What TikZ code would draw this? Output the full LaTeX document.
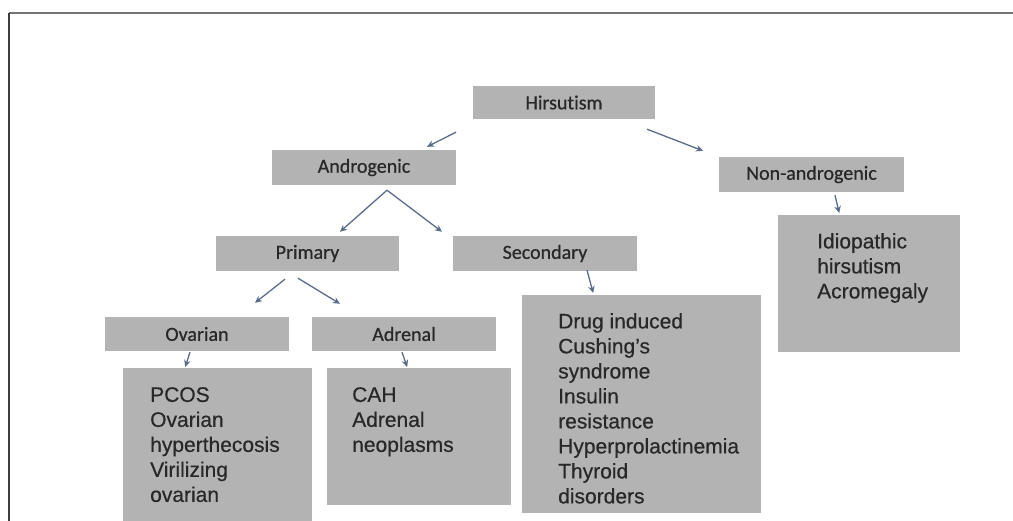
\documentclass[tikz,border=0pt]{standalone}
\usepackage{fontspec}
\newfontfamily\headfont[Ligatures=NoCommon, FakeBold=0.6]{Carlito}
\newfontfamily\bodyfont[FakeBold=0.5]{Liberation Sans}
\usetikzlibrary{calc,arrows.meta}
\definecolor{boxgray}{RGB}{179,179,179}
\definecolor{txtgray}{RGB}{40,40,40}
\definecolor{arrcol}{RGB}{90,108,140}
\definecolor{topline}{RGB}{115,115,115}
\definecolor{leftline}{RGB}{60,60,60}
\tikzset{
  hbox/.style={fill=boxgray, draw=none, inner sep=0pt, minimum height=35pt, minimum width=184pt,
    font=\headfont\fontsize{20}{24}\selectfont, text=txtgray},
  bbox/.style={fill=boxgray, draw=none, inner sep=0pt, anchor=north west},
  bodytext/.style={anchor=north west, inner sep=0pt, align=left,
    font=\bodyfont\fontsize{21}{25}\selectfont, text=txtgray},
  arr/.style={draw=arrcol, line width=1.3pt, -{Stealth[length=7pt,width=6.5pt]}}
}
\begin{document}
\begin{tikzpicture}[x=1pt,y=-1pt]
\useasboundingbox (0,0) rectangle (1013,521);
\fill[white] (0,0) rectangle (1013,521);
% frame
\draw[topline, line width=2pt] (9,13) -- (1013,13);
\draw[leftline, line width=1.5pt] (9,13) -- (9,521);

% header boxes
\node[hbox, minimum width=182pt, minimum height=33pt] (hir) at (564,102.5) {Hirsutism};
\node[hbox] (andro) at (364,167.5) {Androgenic};
\node[hbox, minimum width=183pt] (prim) at (307.5,253.5) {Primary};
\node[hbox] (sec) at (545,253.5) {Secondary};
\node[hbox, minimum width=185pt] (nonand) at (811.5,174.5) {Non-androgenic};
\node[hbox, minimum height=34pt] (ov) at (197,334) {Ovarian};
\node[hbox, minimum height=34pt] (adr) at (404,334) {Adrenal};

% content boxes
\node[bbox, minimum width=189pt, minimum height=153pt] (pcos) at (123,368) {};
\node[bbox, minimum width=184pt, minimum height=137pt] (cah) at (327,368) {};
\node[bbox, minimum width=239pt, minimum height=218pt] (drug) at (522,295) {};
\node[bbox, minimum width=182pt, minimum height=137pt] (idio) at (778,215) {};

\node[bodytext] (pcost) at ($(pcos.north west)+(27,19)$) {PCOS\\Ovarian\\hyperthecosis\\Virilizing\\ovarian};
\node[bodytext] (caht) at ($(cah.north west)+(25,19)$) {CAH\\Adrenal\\neoplasms};
\node[bodytext] (drugt) at ($(drug.north west)+(36,18)$) {Drug induced\\Cushing’s\\syndrome\\Insulin\\resistance\\Hyperprolactinemia\\Thyroid\\disorders};
\node[bodytext] (idiot) at ($(idio.north west)+(39,18)$) {Idiopathic\\hirsutism\\Acromegaly};

% arrows
\draw[arr] ($(hir.south)+(-108,13)$) -- ($(andro.north)+(63,-3)$);
\draw[arr] ($(hir.south)+(83,10)$) -- ($(nonand.north)+(-108.5,-6)$);
\draw[arr] ($(andro.south)+(23,5)$) -- ($(prim.north)+(32.5,-4)$);
\draw[arr] ($(andro.south)+(23,5)$) -- ($(sec.north)+(-103,-4)$);
\draw[arr] ($(prim.south)+(-22.5,8)$) -- ($(ov.north)+(58,-14)$);
\draw[arr] ($(prim.south)+(-9.5,7)$) -- ($(adr.north)+(-64,-13)$);
\draw[arr] ($(ov.south)+(-7,1)$) -- ($(pcos.north)+(-32.5,-1)$);
\draw[arr] ($(adr.south)+(-2,1)$) -- ($(cah.north)+(-12,-1)$);
\draw[arr] ($(sec.south)+(42,-1)$) -- ($(drug.north)+(-48.5,-2)$);
\draw[arr] ($(nonand.south)+(23.5,3)$) -- ($(idio.north)+(-30,-2)$);
\end{tikzpicture}
\end{document}
